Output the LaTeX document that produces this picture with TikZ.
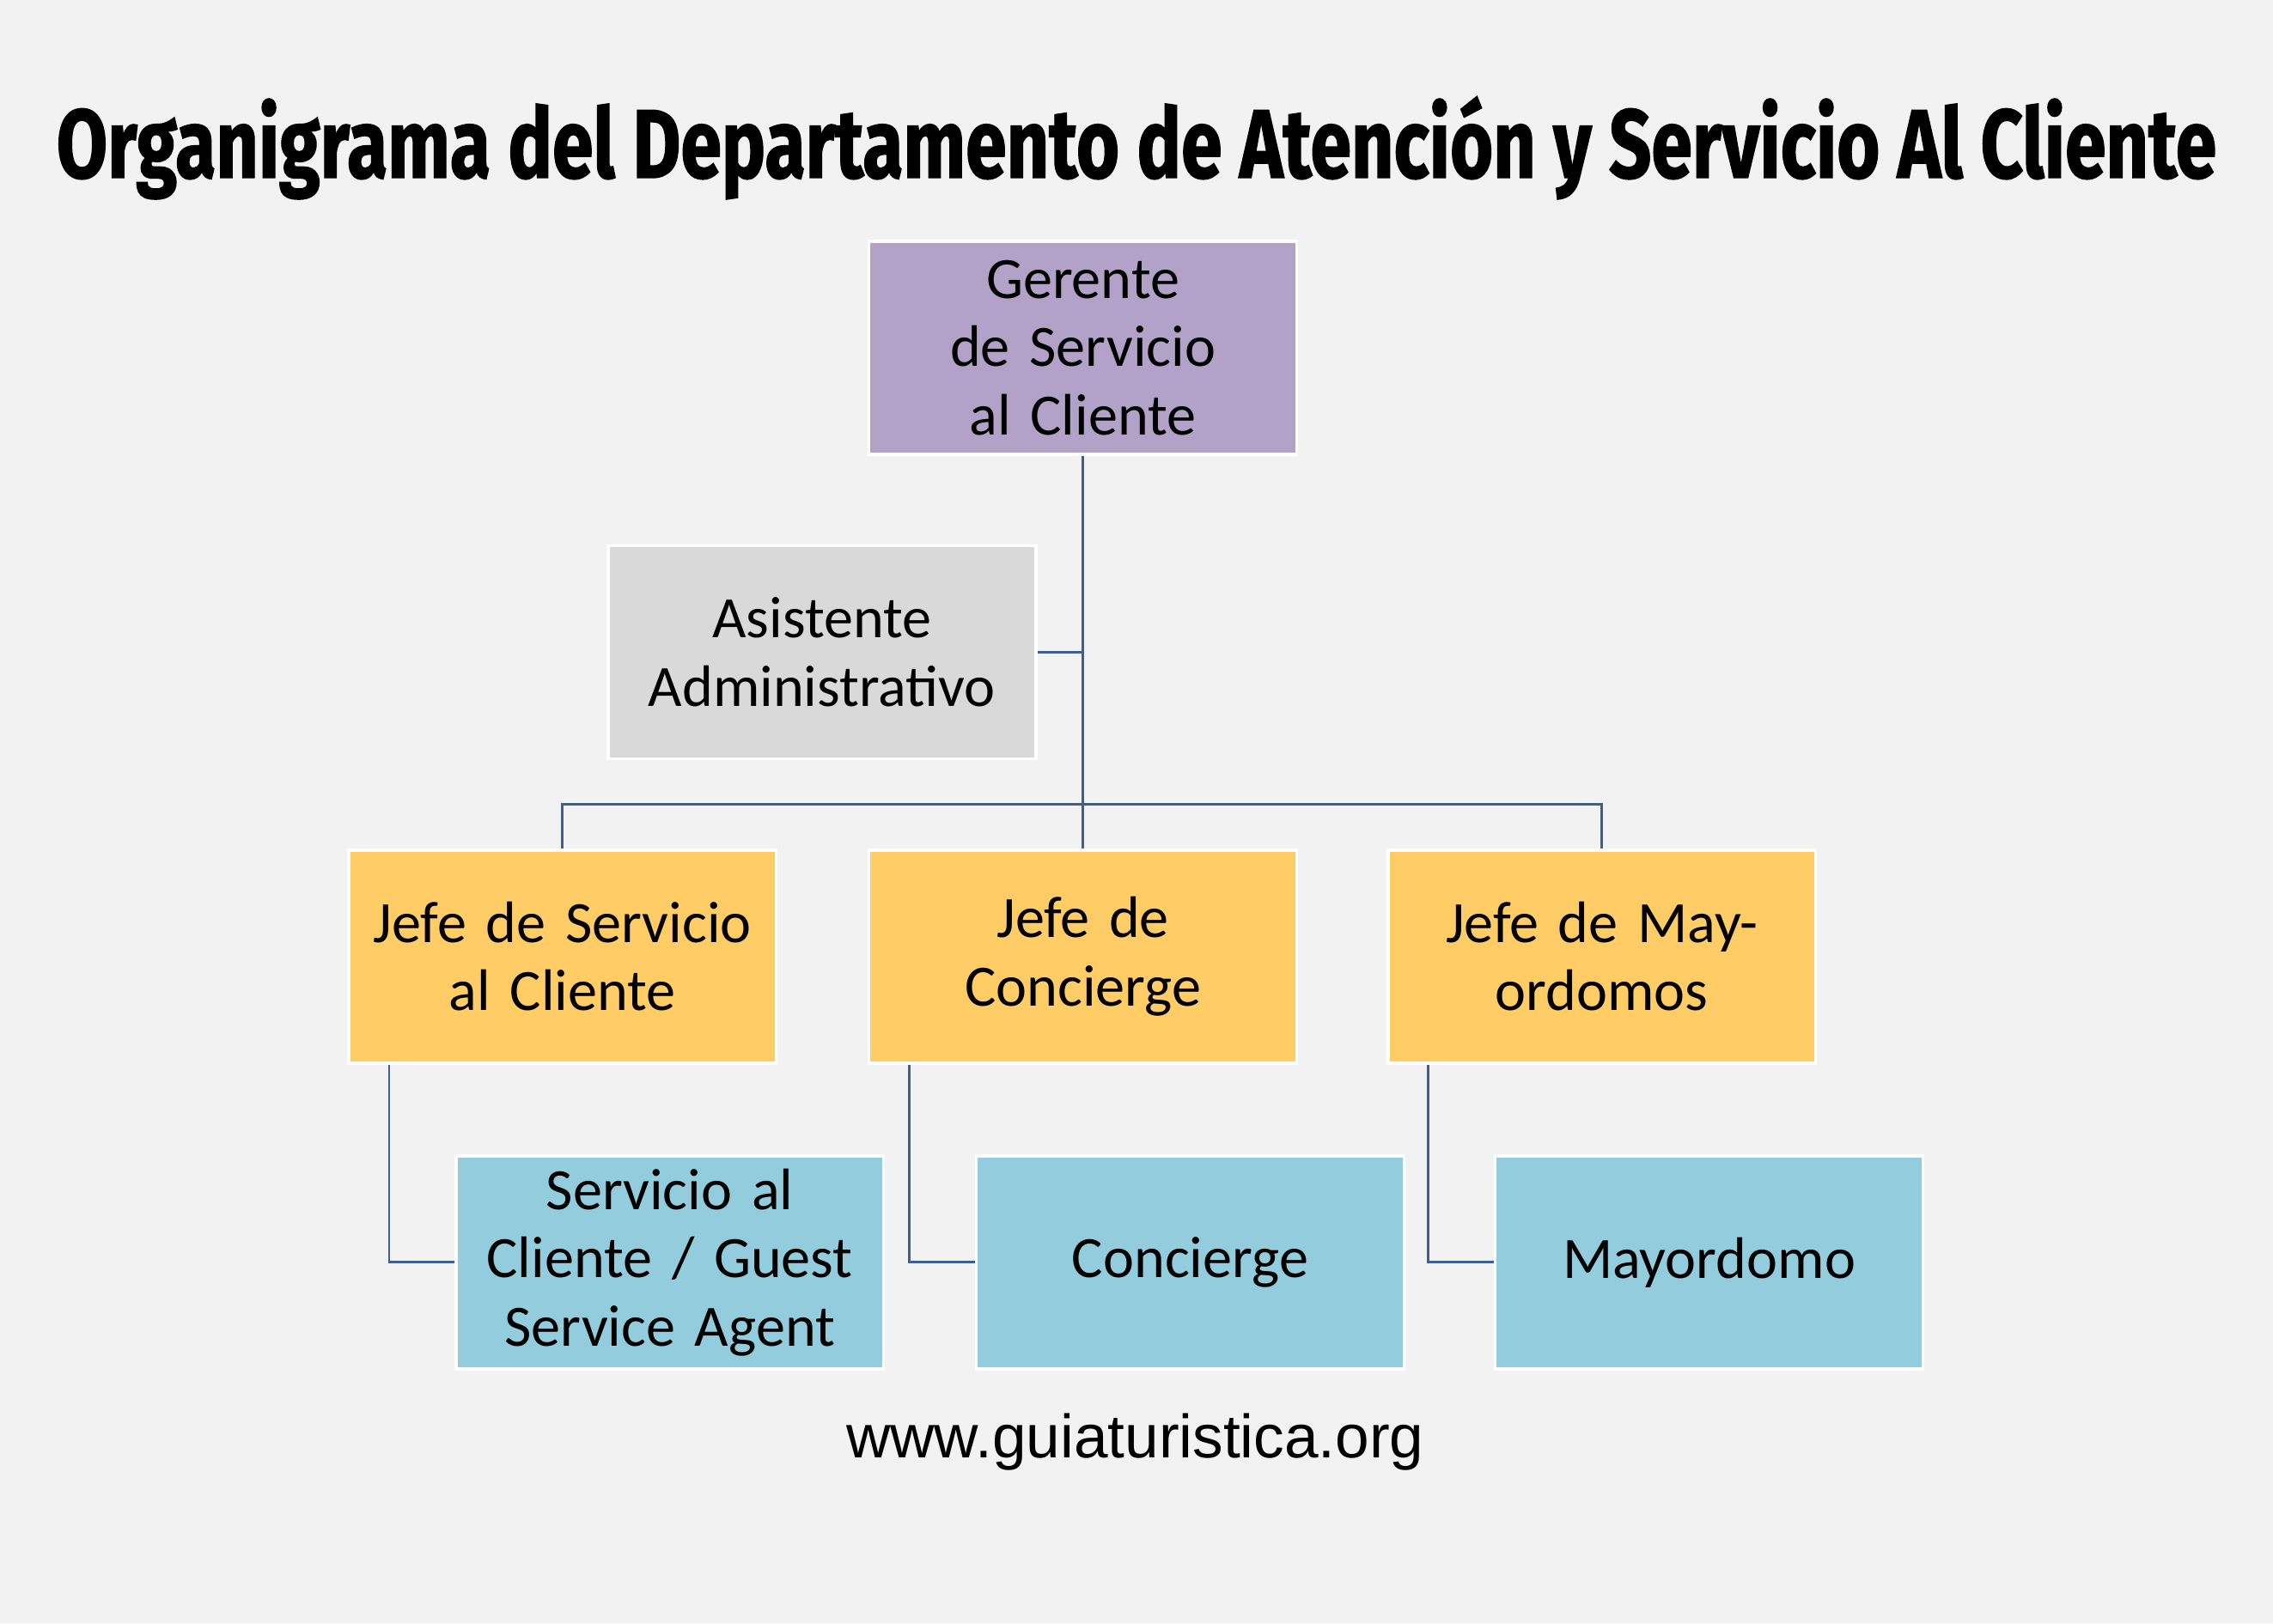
\documentclass[tikz,border=0pt]{standalone}
\usepackage{fontspec}
\setmainfont{Carlito}
\newfontfamily\urlfont{Liberation Sans}
\newfontfamily\titlefont{Fira Sans}
\usetikzlibrary{positioning}
\definecolor{bgc}{HTML}{F2F2F2}
\definecolor{topc}{HTML}{B3A2C7}
\definecolor{asic}{HTML}{D9D9D9}
\definecolor{jefc}{HTML}{FFCC66}
\definecolor{stfc}{HTML}{93CDDD}
\definecolor{linc}{HTML}{3E5F95}
\tikzset{
  box/.style={draw=white, line width=0.6pt, minimum width=2.95cm, minimum height=1.47cm,
    text width=2.85cm, align=center, font=\fontsize{11.5}{13.4}\selectfont, inner sep=0pt},
  link/.style={draw=linc, line width=0.5pt}
}
\begin{document}
\begin{tikzpicture}[x=1cm,y=1cm]
      % fondo
      \fill[bgc] (0, 0) rectangle (15.68, -11.2);
      \useasboundingbox (0, 0) rectangle (15.68, -11.2);

      % titulo
      \node (title) at (7.84, -1.02) {\resizebox{14.9cm}{0.56cm}{\titlefont\bfseries\addfontfeature{FakeBold=1.5} Organigrama del Departamento de Atención y Servicio Al Cliente}};

      % cajas
      \node[box, fill=topc] (ger) at (7.47, -2.40) {Gerente de Servicio al Cliente};
      \node[box, fill=asic] (asi) at (5.67, -4.50) {Asistente Administrativo};
      \node[box, fill=jefc] (jsc) at (3.88, -6.60) {Jefe de Servicio al Cliente};
      \node[box, fill=jefc] (jco) at (7.47, -6.60) {Jefe de Concierge};
      \node[box, fill=jefc] (jma) at (11.05, -6.60) {Jefe de Mayordomos};
      \node[box, fill=stfc] (sca) at (4.62, -8.71) {Servicio al Cliente / Guest Service Agent};
      \node[box, fill=stfc] (con) at (8.21, -8.71) {Concierge};
      \node[box, fill=stfc] (may) at (11.79, -8.71) {Mayordomo};

      % lineas
      \coordinate (br) at (7.47, -5.55);
      \draw[link] (ger.south) -- (jco.north);
      \draw[link] (asi.east) -- (asi.east -| ger.south);
      \draw[link] (jsc.north) |- (br) -| (jma.north);
      \draw[link] ([xshift=0.29cm]jsc.south west) |- (sca.west);
      \draw[link] ([xshift=0.29cm]jco.south west) |- (con.west);
      \draw[link] ([xshift=0.29cm]jma.south west) |- (may.west);

      % web
      \node[font=\urlfont\fontsize{12}{14}\selectfont] (web) at (7.83, -9.95) {www.guiaturistica.org};
\end{tikzpicture}
\end{document}
